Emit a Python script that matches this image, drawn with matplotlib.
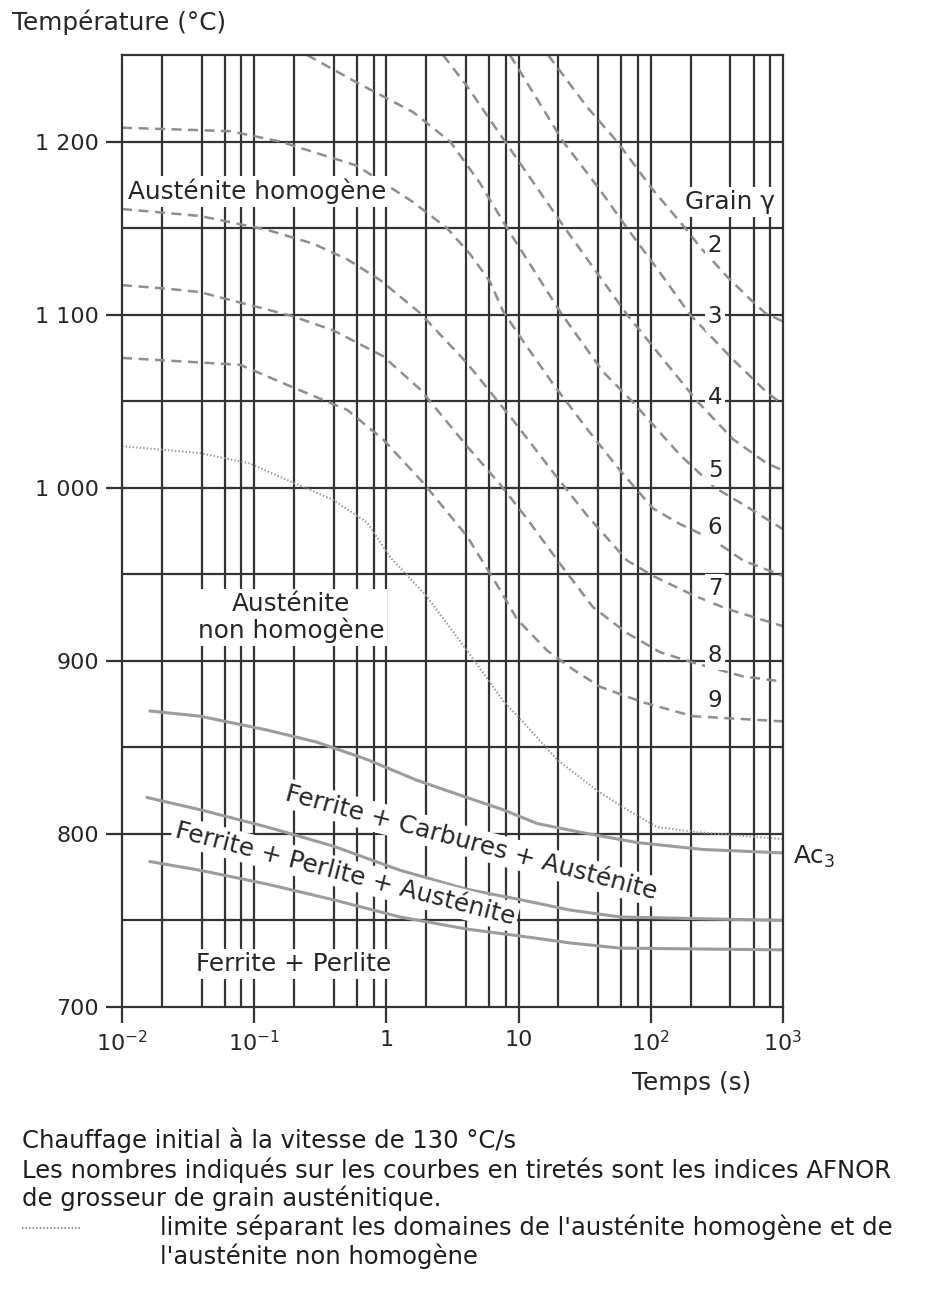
import matplotlib.pyplot as plt
from matplotlib.lines import Line2D
from matplotlib.ticker import FixedLocator, NullLocator

# courbes de grosseur de grain (indice AFNOR) : temps (s) / température (°C)
t_g2 = [16.7, 32.9, 55.5, 104, 182, 236, 377, 563, 731, 1000]
T_g2 = [1250, 1220, 1200, 1172, 1150, 1139, 1122, 1109, 1101, 1096]

t_g3 = [8.6, 21.7, 41.3, 66.1, 118, 198, 419, 757, 1000]
T_g3 = [1250, 1200, 1172, 1150, 1124, 1100, 1074, 1055, 1048]

t_g4 = [2.68, 4.07, 7.89, 22.4, 66.1, 224, 419, 757, 1000]
T_g4 = [1250, 1232, 1200, 1150, 1100, 1050, 1028, 1014, 1010]

t_g5 = [0.251, 0.60, 1.59, 3.03, 5.1, 8.17, 21.3, 43.5, 72, 166, 306, 534, 1000]
T_g5 = [1250, 1234, 1217, 1200, 1176, 1150, 1100, 1067, 1050, 1019, 1000, 989, 976]

t_g6 = [0.01, 0.0656, 0.157, 0.279, 0.60, 1.59, 2.87, 4.29, 6.08, 7.62, 10.3,
        18.2, 32.9, 58.5, 104, 166, 295, 498, 1000]
T_g6 = [1208, 1206, 1200, 1194, 1186, 1165, 1150, 1135, 1119, 1102, 1087,
        1060, 1034, 1010, 988, 979, 970, 958, 949]

t_g7 = [0.01, 0.0389, 0.125, 0.279, 0.504, 0.895, 1.79, 4.07, 9.08, 18.2,
        32.9, 66.1, 104, 208, 377, 1000]
T_g7 = [1161, 1157, 1149, 1141, 1132, 1120, 1101, 1072, 1039, 1009,
        984, 958, 949, 938, 930, 920]

t_g8 = [0.01, 0.0219, 0.0389, 0.0692, 0.125, 0.196, 0.394, 0.942, 1.79, 4.07,
        7.23, 11.6, 20.6, 36.5, 66.1, 117.5, 208, 498, 1000]
T_g8 = [1117, 1115, 1113, 1108, 1103, 1099, 1091, 1076, 1057, 1024,
        1002, 982, 956, 931, 916, 905, 899, 891, 888]

t_g9 = [0.01, 0.0782, 0.196, 0.504, 0.942, 1.89, 4.07, 7.23, 9.73, 16.4,
        25.8, 41.3, 87.4, 208, 1000]
T_g9 = [1075, 1071, 1058, 1045, 1028, 1003, 972, 941, 924, 906,
        895, 885, 876, 868, 865]

grain_curves = [(t_g2, T_g2), (t_g3, T_g3), (t_g4, T_g4), (t_g5, T_g5),
                (t_g6, T_g6), (t_g7, T_g7), (t_g8, T_g8), (t_g9, T_g9)]

# limite austénite homogène / non homogène (pointillés)
t_lim = [0.01, 0.0389, 0.0929, 0.196, 0.394, 0.713, 1.064, 2.028, 4.07, 7.62,
         11.6, 19.5, 39.2, 66.1, 111.4, 223.7, 1000]
T_lim = [1024, 1020, 1014, 1003, 993, 980, 960, 937, 906, 877,
         862, 843, 825, 814, 804, 801, 797]

# Ac3 et limites des domaines ferrite
t_ac3 = [0.0163, 0.0389, 0.125, 0.298, 0.713, 1.70, 4.07, 7.62, 13.8, 29.1, 78.8, 248, 1000]
T_ac3 = [871, 868, 860, 853, 843, 831, 821, 814, 806, 801, 795, 791, 789]

t_fc = [0.0155, 0.0389, 0.125, 0.394, 1.267, 4.07, 10.3, 24.5, 58.5, 1000]
T_fc = [821, 814, 804, 793, 779, 768, 762, 756, 752, 750]

t_fp = [0.0163, 0.0389, 0.125, 0.394, 1.267, 4.07, 10.3, 24.5, 58.5, 1000]
T_fp = [784, 779, 771, 762, 752, 745, 741, 737, 734, 733]

grain_labels = ['2', '3', '4', '5', '6', '7', '8', '9']
grain_label_T = [1140, 1099, 1052, 1010, 977, 942, 903, 877]

y_ticks = [700, 800, 900, 1000, 1100, 1200]
y_ticklabels = ['700', '800', '900', '1 000', '1 100', '1 200']
x_ticks = [1e-2, 1e-1, 1, 10, 1e2, 1e3]
x_ticklabels = ['10$^{-2}$', '10$^{-1}$', '1', '10', '10$^{2}$', '10$^{3}$']

grid_col = '#333333'
curve_col = '#8e8e8e'
txt_col = '#262626'
fs = 16      # chiffres
fw = 17.8    # textes
white = dict(boxstyle='square,pad=0.12', facecolor='white', edgecolor='none')

fig = plt.figure(figsize=(9.41, 12.97), dpi=100)
ax = fig.add_axes([0.1297, 0.2236, 0.7024, 0.7340])
ax.set_xscale('log')
ax.set_xlim(1e-2, 1e3)
ax.set_ylim(700, 1250)

# quadrillage
for T in range(750, 1250, 50):
    ax.axhline(T, color=grid_col, lw=1.6, zorder=1)
for k in range(-2, 3):
    for m in (1, 2, 4, 6, 8):
        if m * 10.0**k > 1e-2:
            ax.axvline(m * 10.0**k, color=grid_col, lw=1.6, zorder=1)

for t, T in grain_curves:
    ax.plot(t, T, color=curve_col, lw=1.8, dashes=(4, 2.6), zorder=2)
ax.plot(t_lim, T_lim, color='#999999', lw=1.5, linestyle=(0, (0.7, 1.0)), zorder=2)
for t, T in [(t_ac3, T_ac3), (t_fc, T_fc), (t_fp, T_fp)]:
    ax.plot(t, T, color='#9c9c9c', lw=2.2, zorder=2)

for s, T in zip(grain_labels, grain_label_T):
    ax.text(306, T, s, fontsize=16.5, color=txt_col, ha='center', va='center',
            bbox=white, zorder=5)

ax.text(0.0111, 1171, 'Austénite homogène', fontsize=fw, color=txt_col,
        ha='left', va='center', bbox=white, zorder=5)
ax.text(397, 1165, 'Grain γ', fontsize=fw, color=txt_col,
        ha='center', va='center', bbox=white, zorder=5)
ax.text(0.19, 925, 'Austénite\nnon homogène', fontsize=fw, color=txt_col,
        ha='center', va='center', linespacing=1.05, bbox=white, zorder=5)
ax.text(4.37, 795, 'Ferrite + Carbures + Austénite', fontsize=fw, color=txt_col,
        ha='center', va='center', rotation=-15, rotation_mode='anchor',
        bbox=white, zorder=5)
ax.text(0.486, 777, 'Ferrite + Perlite + Austénite', fontsize=fw, color=txt_col,
        ha='center', va='center', rotation=-14.5, rotation_mode='anchor',
        bbox=white, zorder=5)
ax.text(0.2, 725, 'Ferrite + Perlite', fontsize=fw, color=txt_col,
        ha='center', va='center', bbox=white, zorder=5)
ax.text(1190, 787, 'Ac$_3$', fontsize=fw, color=txt_col,
        ha='left', va='center', clip_on=False)

ax.set_yticks(y_ticks)
ax.set_yticklabels(y_ticklabels)
ax.xaxis.set_major_locator(FixedLocator(x_ticks))
ax.xaxis.set_minor_locator(NullLocator())
ax.set_xticklabels(x_ticklabels)
ax.tick_params(length=11.5, width=1.6, color=grid_col, labelsize=fs,
               labelcolor=txt_col, pad=5)
for sp in ax.spines.values():
    sp.set_color(grid_col)
    sp.set_linewidth(1.6)

fig.text(0.0128, 0.983, 'Température (°C)', fontsize=fw, color=txt_col,
         ha='left', va='center')
fig.text(0.7354, 0.165, 'Temps (s)', fontsize=fw, color=txt_col,
         ha='center', va='center')

cap = [(1140, 22, 'Chauffage initial à la vitesse de 130 °C/s'),
       (1170, 22, 'Les nombres indiqués sur les courbes en tiretés sont les indices AFNOR'),
       (1198, 22, 'de grosseur de grain austénitique.'),
       (1227, 160, "limite séparant les domaines de l'austénite homogène et de"),
       (1256, 160, "l'austénite non homogène")]
for y, x, s in cap:
    fig.text(x / 941, 1 - y / 1297, s, fontsize=17.5, color='#1e1e1e',
             ha='left', va='center')
fig.add_artist(Line2D([22 / 941, 80 / 941], [1 - 1228 / 1297] * 2,
                      color=curve_col, lw=1.5, linestyle=(0, (0.7, 1.0))))

fig.savefig('out.png', dpi=100)
